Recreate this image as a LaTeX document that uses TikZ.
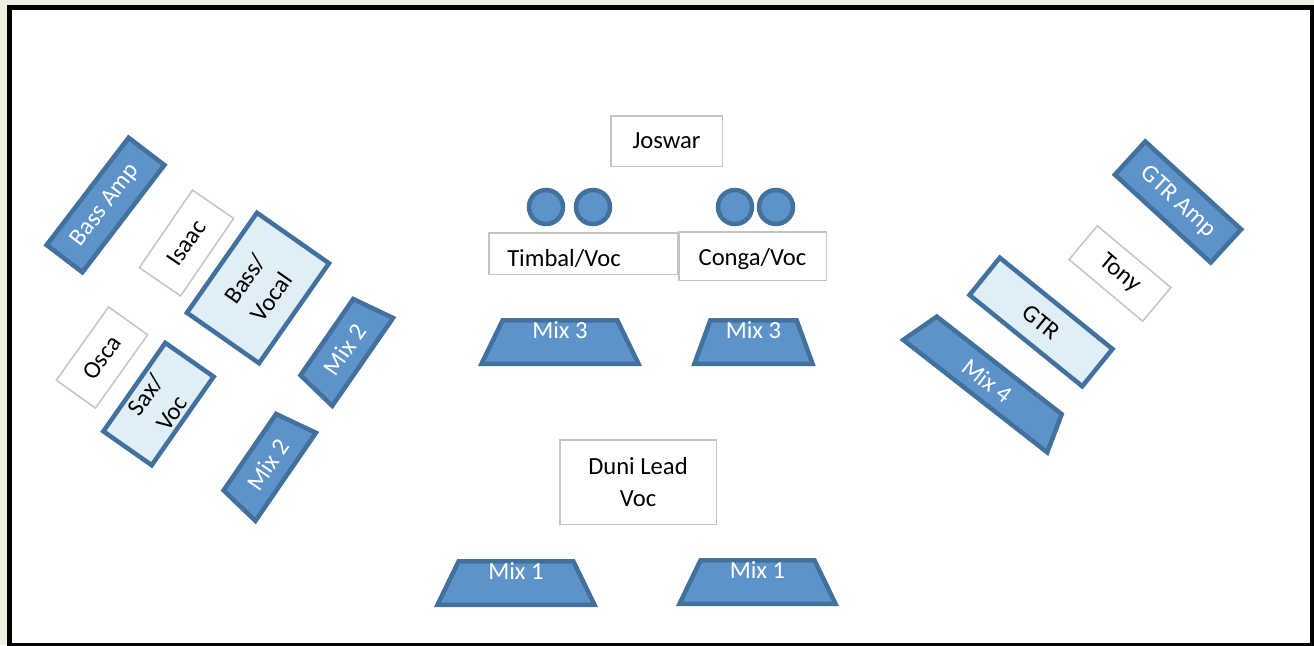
\documentclass[tikz,border=0pt]{standalone}
\usepackage{fontspec}
\setmainfont{Carlito}
\usetikzlibrary{shapes.geometric}
\definecolor{mixblue}{HTML}{5E93C9}
\definecolor{mixedge}{HTML}{41719C}
\definecolor{pale}{HTML}{DFEEF7}
\definecolor{boxgray}{HTML}{C4C4C4}
\definecolor{paper}{HTML}{ECF0E0}
\tikzset{
	amp/.style={draw=mixedge, line width=2.25pt, fill=mixblue, text=white, rectangle, inner sep=0pt},
	instr/.style={draw=mixedge, line width=2.25pt, fill=pale, rectangle, inner sep=0pt, align=center},
	player/.style={draw=boxgray, line width=0.75pt, fill=white, rectangle, inner sep=0pt, align=center},
	mix/.style={draw=mixedge, line width=2.25pt, fill=mixblue, text=white, trapezium, trapezium left angle=76, trapezium right angle=76, trapezium stretches=true, inner sep=0pt, minimum height=21.75pt},
	% floor wedges, text close to the top edge
	floormix/.style={mix, text depth=12pt},
	drum/.style={draw=mixedge, line width=2.25pt, fill=mixblue, circle, minimum size=17pt, inner sep=0pt},
}

\begin{document}
\begin{tikzpicture}[x=0.5pt, y=-0.5pt, font=\fontsize{12.3}{16}\selectfont]

\useasboundingbox (0,0) rectangle (1314,645);
\fill[paper] (0,0) rectangle (1314,645);
\draw[line width=2.5pt, fill=white] (9.5,7.5) rectangle (1312.5,645.5);

% left: bass and sax
\node (bassamp) [amp, rotate=52.6, minimum width=67.5pt, minimum height=22.5pt] at (105.5,205) {Bass Amp};

\node (isaac) [player, rotate=55.6, minimum width=47pt, minimum height=25pt] at (186.5,243) {Isaac};

\node (bassvoc) [instr, rotate=55, minimum width=61pt, minimum height=44pt] at (258,288) {Bass/\\Vocal};

\node (osca) [player, rotate=54.5, minimum width=45pt, minimum height=24pt] at (102,357.5) {Osca};

\node (saxvoc) [instr, rotate=55, minimum width=54pt, minimum height=29.5pt] at (158.5,404) {Sax/\\Voc};

\node (mixtwoa) [mix, rotate=55.3, minimum width=53.5pt] at (344.75,349.5) {Mix 2};

\node (mixtwob) [mix, rotate=55.5, minimum width=53.5pt] at (267.75,464.5) {Mix 2};

% centre: percussion
\node (joswar) [player, minimum width=55.75pt, minimum height=25.25pt] at (666.5,141) {Joswar};

\node (timb1) [drum] at (546,207) {};
\node (timb2) [drum] at (593,207) {};
\node (conga1) [drum] at (735,207) {};
\node (conga2) [drum] at (776,207) {};

\node (timbal) [player, minimum height=20.75pt, text height=13.7pt, text width=75.75pt, inner xsep=9.25pt, align=left] at (583,253.5) {Timbal/Voc};

\node (conga) [player, minimum width=73.75pt, minimum height=24.25pt, text height=11.2pt] at (752.5,256) {Conga/Voc};

\node (mixthreea) [floormix, minimum width=78.75pt] at (560,342) {Mix 3};

\node (mixthreeb) [floormix, minimum width=59.25pt] at (753.5,342) {Mix 3};

% front: lead vocal
\node (duni) [player, minimum width=78.25pt, minimum height=42.25pt] at (638,482) {Duni Lead\\Voc};

\node (mixonea) [floormix, minimum width=78.75pt] at (516,583) {Mix 1};

\node (mixoneb) [floormix, minimum width=78.25pt] at (757.5,582) {Mix 1};

% right: guitar
\node (gtramp) [amp, rotate=-42.5, minimum width=65pt, minimum height=22.5pt] at (1178,202) {GTR Amp};

\node (tony) [player, rotate=-40, minimum width=48pt, minimum height=22pt] at (1120,273.5) {Tony};

\node (gtr) [instr, rotate=-39, minimum width=72.5pt, minimum height=24pt] at (1041,322) {GTR};

\node (mixfour) [mix, rotate=-38, minimum width=91.5pt, minimum height=19.5pt] at (987.25,380.75) {Mix 4};

\end{tikzpicture}
\end{document}
